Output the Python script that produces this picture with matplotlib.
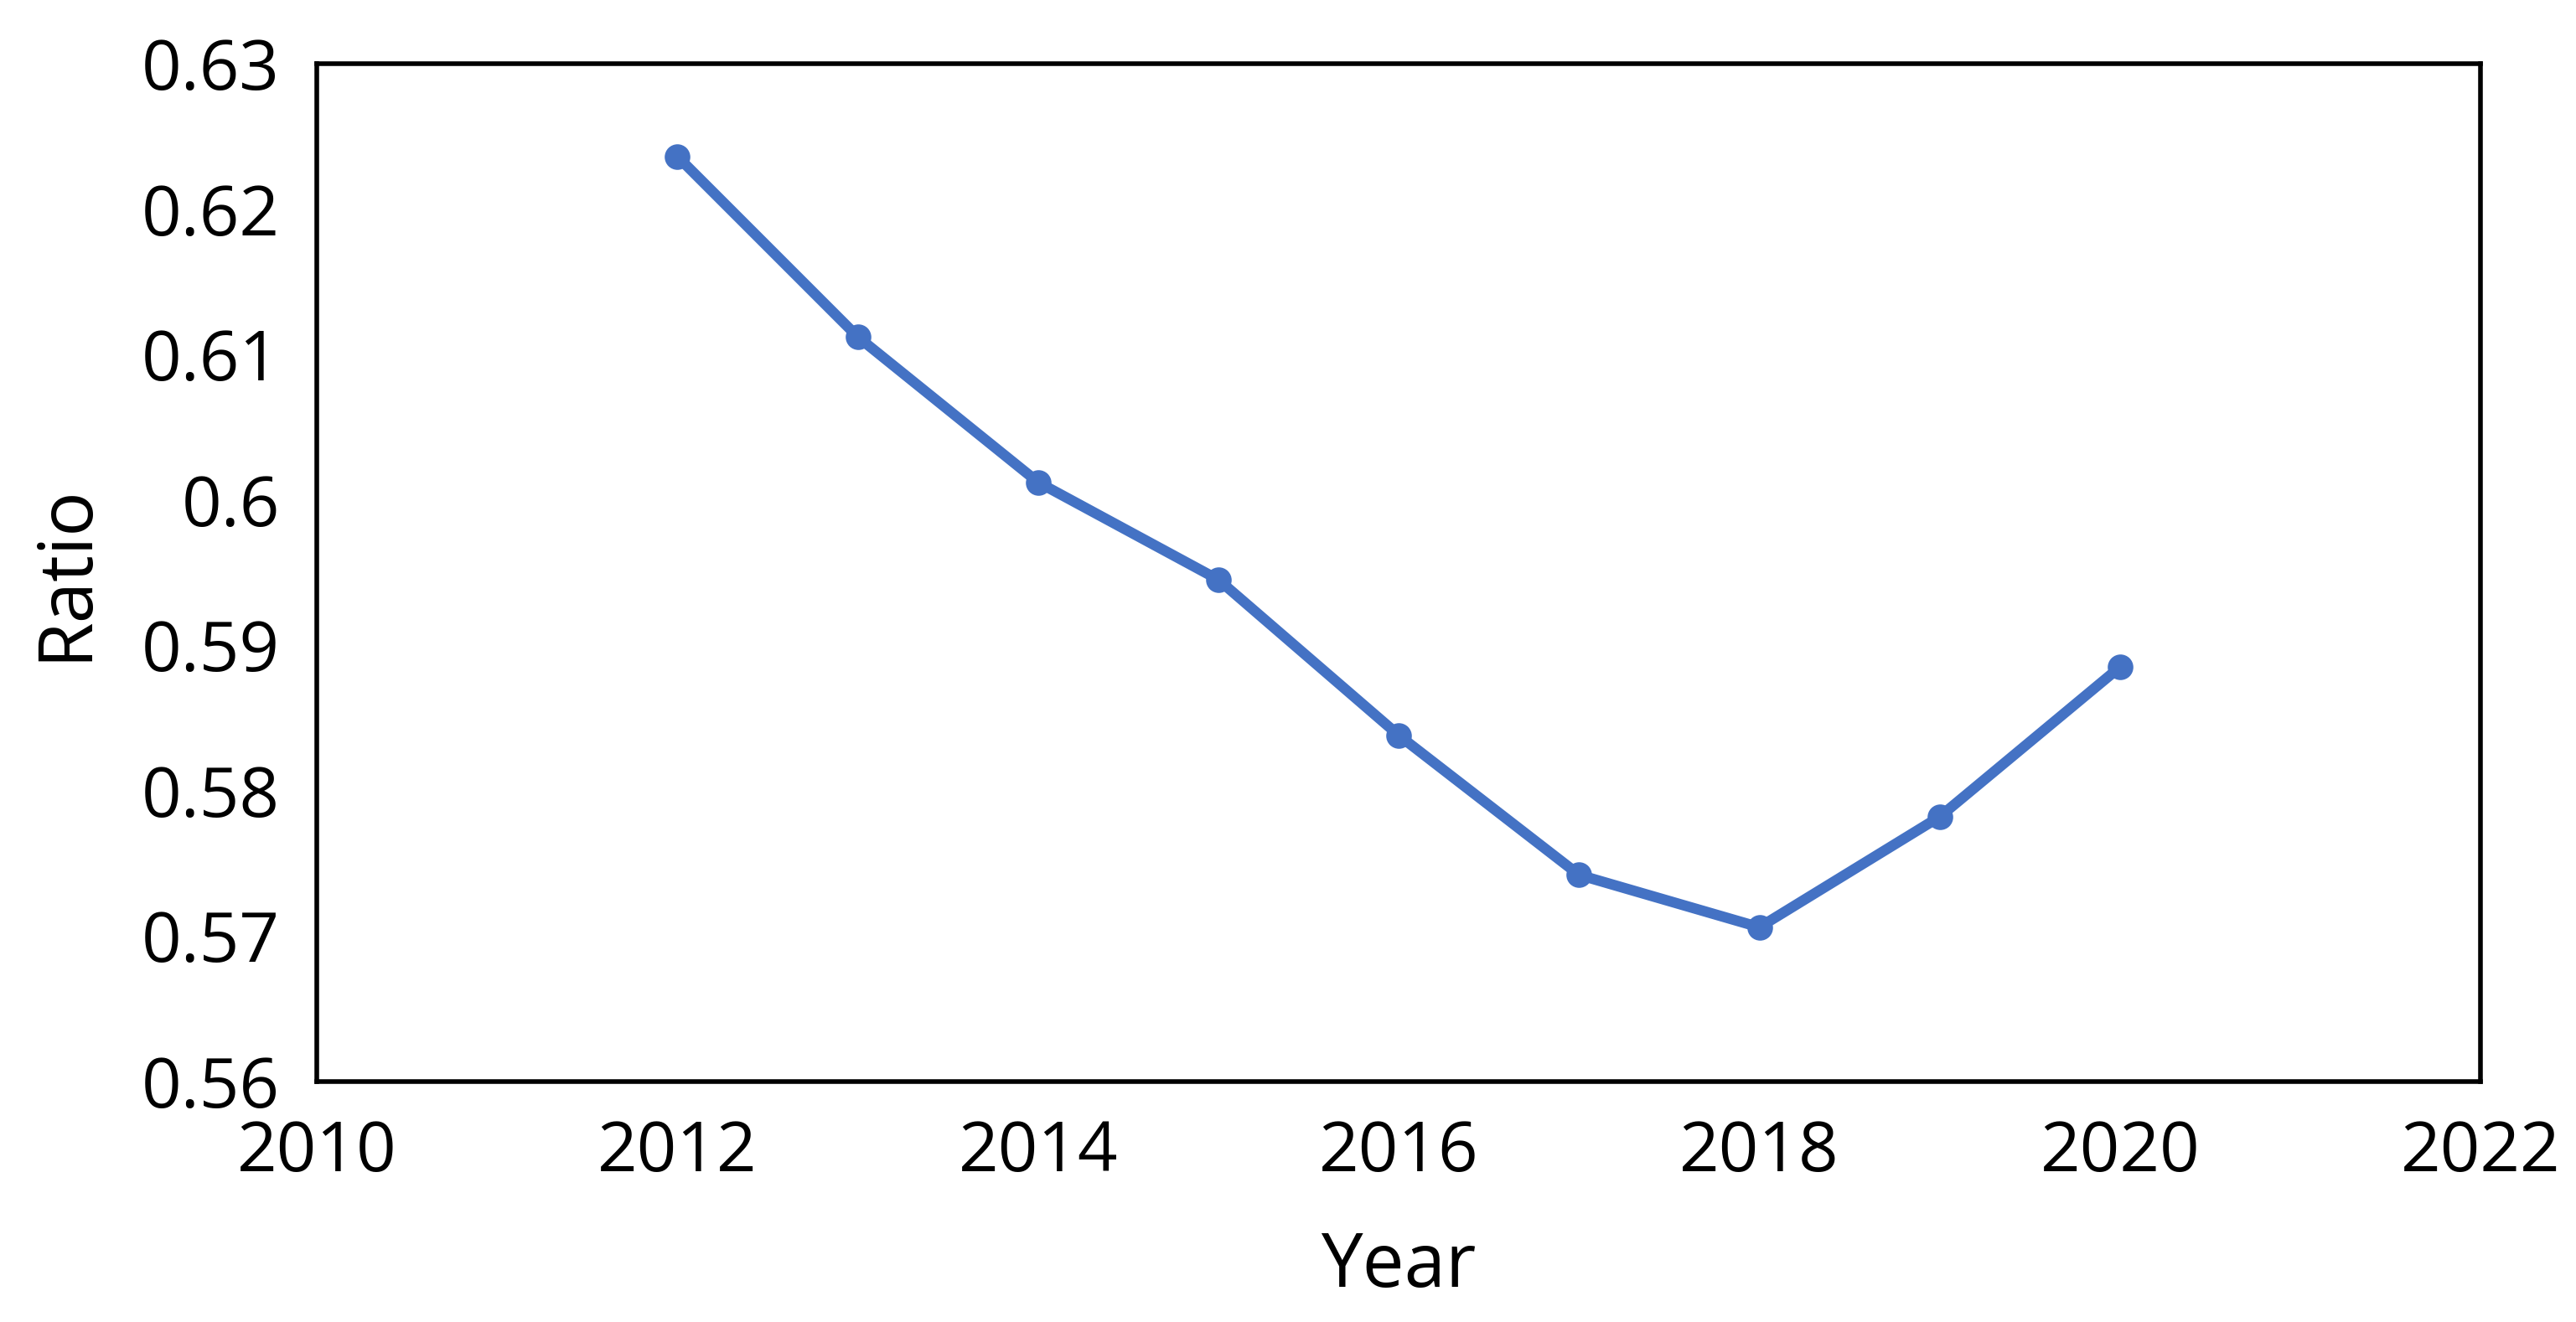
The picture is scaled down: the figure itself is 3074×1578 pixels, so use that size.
import matplotlib
matplotlib.use("Agg")
import matplotlib.pyplot as plt

years = [2012, 2013, 2014, 2015, 2016, 2017, 2018, 2019, 2020]
ratio = [0.6236, 0.6112, 0.6012, 0.5945, 0.5838, 0.5742, 0.5706, 0.5782, 0.5885]
xticks = [2010, 2012, 2014, 2016, 2018, 2020, 2022]
yticks = [0.56, 0.57, 0.58, 0.59, 0.6, 0.61, 0.62, 0.63]
ylabels = ["0.56", "0.57", "0.58", "0.59", "0.6", "0.61", "0.62", "0.63"]

plt.rcParams['font.family'] = ['Open Sans', 'DejaVu Sans']
fig = plt.figure(figsize=(15.37, 7.89), dpi=200)
ax = fig.add_axes([0.123, 0.182, 0.840, 0.770])
ax.plot(years, ratio, color='#4472C4', linewidth=4.5, marker='o', markersize=10)
ax.set_xlim(2010, 2022)
ax.set_ylim(0.56, 0.63)
ax.set_xticks(xticks)
ax.set_yticks(yticks)
ax.set_yticklabels(ylabels)
ax.tick_params(axis='both', labelsize=30, length=0, pad=16)
for s in ax.spines.values():
    s.set_linewidth(2)
ax.set_xlabel("Year", fontsize=32, labelpad=18)
ax.set_ylabel("Ratio", fontsize=32, labelpad=16)
fig.savefig("out.png", dpi=200)
